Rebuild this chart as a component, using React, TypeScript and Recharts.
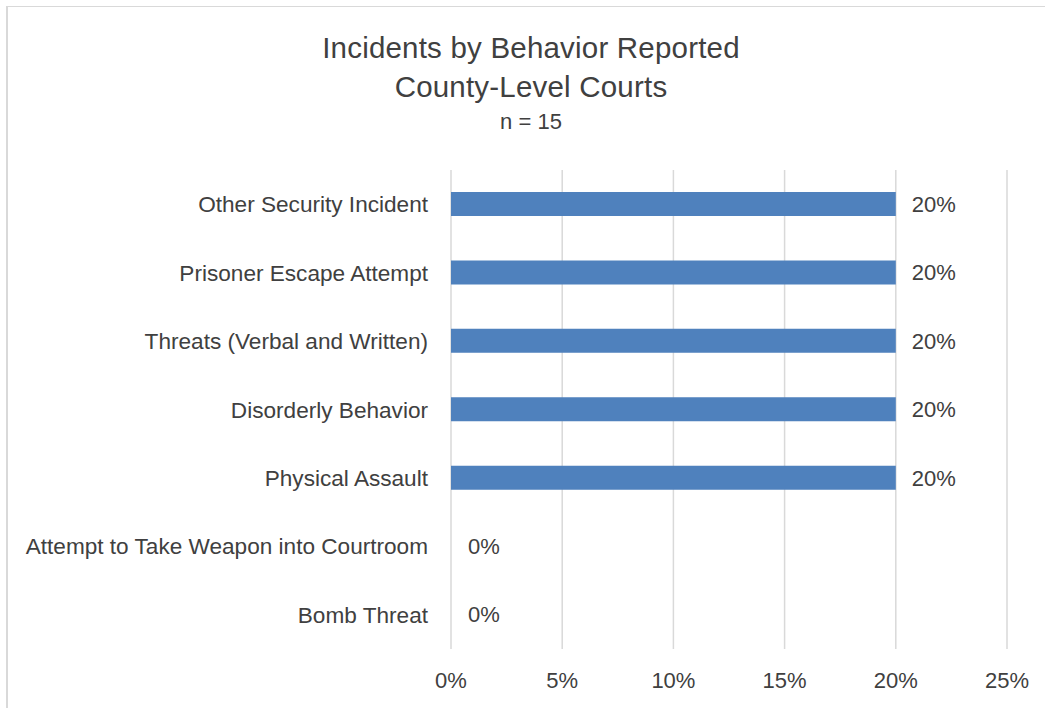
import React from 'react';
import { BarChart, Bar, XAxis, YAxis, CartesianGrid, LabelList, Rectangle } from 'recharts';

// categories listed top to bottom as they appear in the chart
const behaviors = [
  'Other Security Incident',
  'Prisoner Escape Attempt',
  'Threats (Verbal and Written)',
  'Disorderly Behavior',
  'Physical Assault',
  'Attempt to Take Weapon into Courtroom',
  'Bomb Threat',
];
const shares = [0.2, 0.2, 0.2, 0.2, 0.2, 0, 0];
const xTicks = [0, 0.05, 0.1, 0.15, 0.2, 0.25];

const titleLines = ['Incidents by Behavior Reported', 'County-Level Courts'];
const subtitle = 'n = 15';

const data = behaviors.map((name, i) => ({ name, value: shares[i] }));

const pct = (v: number) => `${Math.round(v * 100)}%`;

const FONT = '"Liberation Sans", Arial, sans-serif';
const TEXT = '#404040';

// zero rows keep a 1px slot so the "0%" label still gets placed, but draw nothing
const BarShape = (props: any) =>
  props.payload && props.payload.value > 0 ? <Rectangle {...props} /> : <g />;

const App: React.FC = () => {
  return (
    <div style={{ position: 'fixed', left: 0, top: 0, width: 1045, height: 708, background: '#fff', fontFamily: FONT }}>
      {/* chart frame, runs off the right and bottom edge */}
      <div
        style={{
          position: 'absolute',
          left: 6,
          top: 6,
          width: 1060,
          height: 720,
          borderLeft: '2px solid #d9d9d9',
          borderTop: '1.5px solid #d9d9d9',
        }}
      />
      <div style={{ position: 'absolute', left: 0, top: 28, width: 1062, textAlign: 'center', color: TEXT }}>
        {titleLines.map((line) => (
          <div key={line} style={{ fontSize: 29.5, lineHeight: '39px', whiteSpace: 'nowrap', letterSpacing: 0.2 }}>
            {line}
          </div>
        ))}
      </div>
      <div
        style={{
          position: 'absolute',
          left: 0,
          top: 111,
          width: 1062,
          textAlign: 'center',
          color: TEXT,
          fontSize: 22,
          lineHeight: '22px',
        }}
      >
        {subtitle}
      </div>
      <div style={{ position: 'absolute', left: 0, top: 0 }}>
        <BarChart
          width={1045}
          height={708}
          data={data}
          layout="vertical"
          margin={{ top: 170, right: 38, bottom: 0, left: 0 }}
        >
          <CartesianGrid horizontal={false} stroke="#d9d9d9" strokeWidth={1.5} />
          <XAxis
            type="number"
            domain={[0, 0.25]}
            ticks={xTicks}
            interval={0}
            tickFormatter={pct}
            height={59}
            tickSize={0}
            tickMargin={23}
            axisLine={false}
            tickLine={false}
            tick={{ fill: TEXT, fontSize: 22, fontFamily: FONT }}
          />
          <YAxis
            type="category"
            dataKey="name"
            width={451}
            tickSize={0}
            tickMargin={23}
            axisLine={false}
            tickLine={false}
            interval={0}
            tick={{ fill: TEXT, fontSize: 22.6, fontFamily: FONT }}
          />
          <Bar
            dataKey="value"
            fill="#4f81bd"
            barSize={24}
            minPointSize={1}
            shape={BarShape}
            isAnimationActive={false}
          >
            <LabelList
              dataKey="value"
              position="right"
              offset={16}
              formatter={(v: any) => pct(Number(v))}
              fill={TEXT}
              fontSize={22}
              fontFamily={FONT}
            />
          </Bar>
        </BarChart>
      </div>
    </div>
  );
};

export default App;
